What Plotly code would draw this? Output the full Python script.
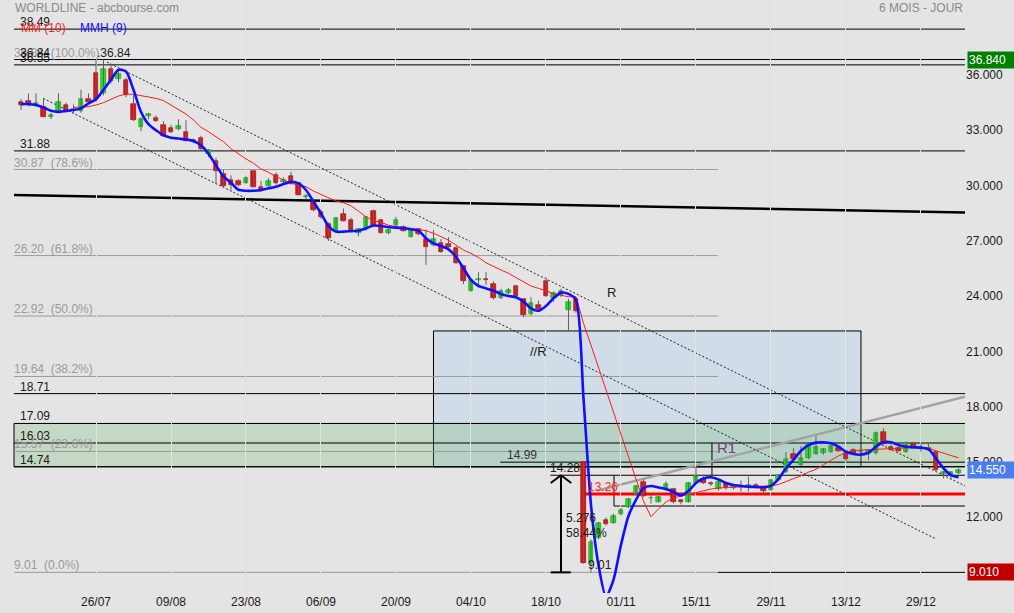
import plotly.graph_objects as go

# ---------------- data (trading-day index 0..125) ----------------
tick_idx = [10, 20, 30, 40, 50, 60, 70, 80, 90, 100, 110, 120]
tick_text = ["26/07", "09/08", "23/08", "06/09", "20/09", "04/10", "18/10",
             "01/11", "15/11", "29/11", "13/12", "29/12"]

opens = [34.56, 34.60, 34.45, 34.25, 33.72, 34.04, 34.37, 34.10, 34.03, 34.69,
         36.12, 35.00, 36.35, 35.76, 35.73, 34.43, 33.16, 33.75, 33.65, 33.30,
         33.10, 33.05, 32.93, 32.42, 32.56, 31.70, 31.33, 30.64, 30.30, 30.25,
         30.16, 30.77, 29.90, 30.00, 30.57, 30.20, 30.50, 30.12, 29.40, 29.13,
         28.58, 27.90, 27.50, 28.45, 28.13, 27.44, 27.62, 28.64, 28.13, 27.40,
         27.86, 27.77, 27.23, 27.62, 27.08, 26.77, 26.86, 26.82, 26.59, 25.63,
         24.30, 24.90, 24.95, 24.68, 23.92, 24.19, 24.55, 23.83, 23.01, 23.52,
         24.82, 23.88, 24.06, 23.25, 23.83, 14.99, 9.51, 10.86, 11.85, 11.71,
         12.16, 12.57, 13.25, 13.93, 13.02, 12.85, 13.53, 13.53, 12.94, 12.85,
         13.88, 14.06, 13.86, 13.52, 13.84, 13.57, 13.66, 13.70, 13.75, 13.63,
         13.48, 14.02, 14.47, 15.43, 14.84, 15.20, 15.43, 15.50, 15.56, 15.77,
         15.50, 15.65, 15.55, 15.50, 15.47, 16.65, 15.83, 15.74, 15.56, 16.00,
         15.74, 15.74, 15.56, 14.36, 14.23, 14.39]
highs = [34.70, 35.00, 35.00, 34.75, 33.95, 35.00, 34.50, 34.40, 35.20, 35.00,
         36.84, 36.84, 36.60, 36.20, 35.85, 34.90, 33.70, 33.95, 33.80, 33.50,
         33.30, 33.60, 33.55, 32.55, 32.70, 31.98, 31.50, 30.85, 30.55, 30.35,
         30.50, 30.80, 30.25, 30.40, 30.70, 30.45, 30.75, 30.20, 29.55, 29.20,
         28.70, 28.00, 28.30, 28.76, 28.25, 27.70, 28.35, 28.70, 28.20, 27.65,
         28.30, 27.85, 27.65, 27.70, 27.60, 27.60, 27.10, 27.20, 26.70, 25.70,
         24.95, 25.30, 25.30, 24.80, 24.40, 24.45, 24.60, 23.90, 23.95, 23.75,
         25.03, 24.25, 24.40, 23.85, 23.90, 14.99, 10.80, 11.75, 12.00, 12.20,
         12.50, 13.05, 13.75, 14.05, 13.25, 13.15, 13.95, 13.60, 13.00, 13.90,
         14.74, 14.30, 13.95, 14.05, 13.90, 13.80, 14.00, 14.20, 13.85, 13.70,
         14.05, 14.35, 15.55, 15.75, 15.85, 16.00, 16.40, 15.75, 15.95, 15.85,
         15.55, 15.75, 15.70, 15.70, 16.65, 16.83, 15.95, 15.85, 16.10, 16.10,
         16.00, 16.00, 15.60, 14.50, 14.50, 14.65]
lows = [34.10, 34.30, 34.30, 33.70, 33.62, 33.95, 33.95, 33.95, 33.95, 34.45,
        34.55, 34.90, 35.55, 35.60, 34.80, 33.50, 32.95, 33.60, 33.45, 32.65,
        32.85, 33.00, 32.40, 32.30, 31.90, 31.55, 30.12, 29.90, 29.75, 29.95,
        30.10, 29.90, 29.65, 29.95, 30.05, 30.10, 30.05, 29.45, 29.25, 28.60,
        28.20, 27.00, 27.45, 28.05, 27.55, 27.25, 27.55, 27.80, 27.40, 27.35,
        27.80, 27.50, 27.20, 27.30, 25.70, 26.70, 26.35, 26.55, 25.75, 24.65,
        24.25, 24.60, 24.60, 23.82, 23.85, 24.10, 23.95, 22.85, 22.95, 23.20,
        23.95, 23.70, 23.95, 22.11, 23.10, 9.48, 9.01, 10.80, 11.55, 11.65,
        12.10, 12.50, 13.20, 13.10, 12.75, 12.80, 13.45, 12.75, 12.70, 12.80,
        13.80, 13.80, 13.70, 13.45, 13.50, 13.50, 13.40, 13.40, 13.55, 13.20,
        13.45, 13.95, 14.40, 15.10, 14.80, 15.15, 15.40, 15.40, 15.50, 15.55,
        15.05, 15.40, 15.40, 15.10, 15.40, 15.95, 15.60, 15.55, 15.50, 15.70,
        15.55, 15.60, 14.50, 14.10, 14.05, 14.35]
closes = [34.38, 34.43, 34.47, 33.74, 33.85, 34.52, 34.00, 34.12, 34.68, 34.55,
          34.68, 36.35, 35.65, 36.08, 34.90, 33.56, 33.60, 33.90, 33.50, 32.70,
          32.90, 33.25, 32.44, 32.47, 31.98, 31.93, 30.80, 29.95, 30.03, 30.03,
          30.43, 29.93, 29.70, 30.25, 30.12, 30.30, 30.12, 29.50, 29.42, 28.67,
          28.27, 27.17, 28.22, 28.10, 27.59, 27.62, 28.27, 27.86, 27.44, 27.59,
          28.15, 27.55, 27.59, 27.35, 26.68, 27.08, 26.41, 26.68, 25.81, 24.83,
          24.90, 24.95, 24.90, 23.88, 24.30, 24.33, 24.00, 22.98, 23.61, 23.29,
          24.00, 24.19, 24.30, 23.70, 23.21, 9.51, 10.68, 11.67, 11.62, 12.07,
          12.39, 12.98, 13.70, 13.15, 13.05, 13.08, 13.80, 12.81, 12.81, 13.88,
          14.24, 13.86, 13.78, 13.93, 13.57, 13.72, 13.68, 13.72, 13.63, 13.44,
          14.02, 14.30, 15.15, 15.16, 15.20, 15.96, 15.83, 15.68, 15.87, 15.60,
          15.15, 15.47, 15.57, 15.65, 16.56, 15.98, 15.65, 15.60, 16.05, 15.74,
          15.76, 15.65, 14.57, 14.45, 14.45, 14.55]

# MMH (9) - blue
mmh9 = [34.42, 34.42, 34.37, 34.24, 34.06, 34.00, 34.06, 34.10, 34.19, 34.46,
        34.68, 35.20, 35.74, 36.28, 36.19, 35.20, 34.00, 33.33, 33.00, 32.73,
        32.60, 32.55, 32.50, 32.42, 32.19, 31.73, 31.10, 30.50, 30.15, 29.77,
        29.72, 29.72, 29.76, 29.85, 29.94, 30.08, 30.20, 30.12, 29.76, 29.13,
        28.49, 27.80, 27.50, 27.50, 27.53, 27.55, 27.68, 27.83, 27.81, 27.74,
        27.72, 27.68, 27.63, 27.55, 27.14, 26.86, 26.72, 26.54, 26.14, 25.51,
        24.88, 24.55, 24.42, 24.30, 24.12, 24.01, 23.94, 23.70, 23.34, 23.21,
        23.47, 23.88, 24.19, 24.12, 23.79, 18.47, 12.67, 9.41, 7.70, 8.60,
        10.50, 12.07, 12.94, 13.59, 13.70, 13.62, 13.53, 13.37, 13.18, 13.43,
        13.86, 14.10, 14.17, 14.05, 13.86, 13.75, 13.70, 13.66, 13.64, 13.63,
        13.70, 14.08, 14.66, 15.11, 15.61, 15.92, 16.05, 16.07, 16.01, 15.83,
        15.56, 15.43, 15.40, 15.50, 15.83, 16.07, 16.07, 15.92, 15.83, 15.80,
        15.78, 15.69, 15.20, 14.66, 14.29, 14.17]

# MM (10) - red (starts at index 7)
mm10 = [None] * 7 + [
    34.24, 34.24, 34.28,
    34.37, 34.50, 34.68, 34.86, 34.97, 34.95, 34.88, 34.82, 34.73, 34.61,
    34.37, 34.14, 33.88, 33.56, 33.16, 32.92, 32.65, 32.38, 32.00, 31.70,
    31.45, 31.21, 30.90, 30.72, 30.48, 30.30, 30.12, 30.03, 29.94, 29.70,
    29.52, 29.34, 29.16, 29.07, 28.90, 28.61, 28.30, 28.09, 28.00, 27.85,
    27.76, 27.71, 27.67, 27.63, 27.55, 27.41, 27.23, 27.04, 26.77, 26.50,
    26.32, 26.10, 25.81, 25.60, 25.42, 25.24, 25.00, 24.79, 24.55, 24.42,
    24.30, 24.12, 24.06, 23.97, 23.97, 22.53, 21.34, 20.15, 18.90, 17.71,
    16.52, 15.32, 14.08, 12.88, 12.03, 12.45, 12.83, 13.05, 13.15, 13.24,
    13.37, 13.45, 13.53, 13.59, 13.62, 13.64, 13.65, 13.66, 13.66, 13.67,
    13.70, 13.78, 13.93, 14.06, 14.25, 14.45, 14.60, 14.85, 15.11, 15.33,
    15.50, 15.61, 15.65, 15.67, 15.69, 15.72, 15.74, 15.77, 15.80, 15.80,
    15.80, 15.74, 15.60, 15.45, 15.35, 15.23]

# horizontal levels
black_levels = [38.49, 36.84, 36.55, 31.88, 18.71, 17.09, 16.03, 14.74]
fib_levels = [36.84, 30.87, 26.20, 22.92, 19.64, 15.57, 9.01]
fib_pcts = ["100.0%", "78.6%", "61.8%", "50.0%", "38.2%", "23.6%", "0.0%"]
zone_green = [14.74, 17.09]
zone_blue = [14.74, 22.11]
level_1499 = 14.99
level_1428 = 14.28
level_1326 = 13.26
level_1261 = 12.61
low_901 = 9.01
high_3684 = 36.84
last_close = 14.55
move_abs = "5.276"
move_pct = "58.44%"

# trend lines (index, value) end points
chan_upper = [(11.47, 36.70), (125.87, 13.70)]
chan_lower = [(2.97, 34.73), (121.87, 10.85)]
thick_line = [(-0.93, 29.49), (125.87, 28.54)]
grey_line = [(76.76, 13.44), (125.87, 18.54)]

# ---------------- figure ----------------
FONT = "Liberation Sans, Arial, sans-serif"
XMIN, XMAX = -2.8, 125.87
YMIN, YMAX = 7.89, 40.07
L0 = -0.93           # left start of drawn lines
FIB_END = 92.93
BG = "#e4e4e4"

n = len(closes)
idx = list(range(n))

fig = go.Figure()

# wicks
wx, wy = [], []
for i in idx:
    wx += [i, i, None]
    wy += [lows[i], highs[i], None]
fig.add_trace(go.Scatter(x=wx, y=wy, mode="lines",
                         line=dict(color="#606060", width=1), hoverinfo="skip"))

# bodies
base, height, fill, edge = [], [], [], []
for i in idx:
    o, c = opens[i], closes[i]
    base.append(min(o, c))
    height.append(max(abs(c - o), 0.05))
    up = c >= o
    fill.append("#1fe01f" if up else "#e81010")
    edge.append("#109a10" if up else "#a00000")
fig.add_trace(go.Bar(x=idx, y=height, base=base, width=0.6,
                     marker=dict(color=fill, line=dict(color=edge, width=0.6)),
                     hoverinfo="skip"))

# moving averages
fig.add_trace(go.Scatter(x=idx, y=mm10, mode="lines",
                         line=dict(color="#ff1a1a", width=1), hoverinfo="skip"))
fig.add_trace(go.Scatter(x=idx, y=mmh9, mode="lines",
                         line=dict(color="#1010ff", width=2.6, shape="spline",
                                   smoothing=0.7), hoverinfo="skip"))

shapes = []


def hline(y, x0, x1, color="black", width=1, dash=None, layer="below"):
    d = dict(type="line", xref="x", yref="y", x0=x0, x1=x1, y0=y, y1=y,
             line=dict(color=color, width=width), layer=layer)
    if dash:
        d["line"]["dash"] = dash
    shapes.append(d)


def seg(p0, p1, color="black", width=1, dash=None, layer="below"):
    d = dict(type="line", xref="x", yref="y", x0=p0[0], y0=p0[1],
             x1=p1[0], y1=p1[1], line=dict(color=color, width=width), layer=layer)
    if dash:
        d["line"]["dash"] = dash
    shapes.append(d)


# zones
shapes.append(dict(type="rect", xref="x", yref="y", x0=55, x1=112,
                   y0=zone_blue[0], y1=zone_blue[1], fillcolor="#d0dce8",
                   line=dict(color="black", width=1), layer="below"))
shapes.append(dict(type="rect", xref="x", yref="y", x0=L0, x1=XMAX + 0.2,
                   y0=zone_green[0], y1=zone_green[1],
                   fillcolor="rgba(104,180,96,0.25)",
                   line=dict(color="black", width=1), layer="below"))

# fibonacci lines
for lv in fib_levels:
    hline(lv, L0, FIB_END, color="#9a9a9a", width=1)

# black levels
for lv in black_levels:
    hline(lv, L0, XMAX + 1, color="black", width=1)
hline(low_901, FIB_END, XMAX + 1)
hline(level_1499, 63.9, XMAX + 1)
hline(level_1428, 70.6, XMAX + 1)
hline(level_1261, 79.07, XMAX + 1)
seg((79.07, level_1261), (79.07, level_1428))
seg((92.13, level_1428), (92.13, zone_green[0] + 1.29))
hline(level_1326, 75, XMAX + 1, color="#ff0000", width=3)

# trend lines
seg(*thick_line, color="black", width=2.5)
seg(*grey_line, color="#a3a3a3", width=2.5)
seg(*chan_upper, color="#222222", width=1, dash="2px,2px")
seg(*chan_lower, color="#222222", width=1, dash="2px,2px")

# measuring arrow
seg((72, low_901), (72, level_1428), width=2, layer="above")
seg((70.63, level_1428 - 0.42), (72, level_1428), width=2, layer="above")
seg((73.37, level_1428 - 0.42), (72, level_1428), width=2, layer="above")
seg((70.63, low_901), (73.3, low_901), width=2, layer="above")

fig.update_layout(shapes=shapes)

ann = []


def text(x, y, s, color="#1a1a1a", size=12, yshift=0, xanchor="left",
         xref="x", yref="y"):
    ann.append(dict(x=x, y=y, xref=xref, yref=yref, text=s, showarrow=False,
                    xanchor=xanchor, yanchor="middle", yshift=yshift,
                    font=dict(family=FONT, size=size, color=color)))


NB = "\u00a0"
# fib labels
for lv, p in zip(fib_levels, fib_pcts):
    text(-1.2, lv, f"{lv:.2f}{NB}{NB}({p})", color="#9a9a9a", yshift=7)
# black level labels
for lv in black_levels:
    text(-0.45, lv, f"{lv:.2f}", yshift=7)
text(9.9, high_3684, "." + f"{high_3684:.2f}", yshift=7)
text(64.5, level_1499, f"{level_1499:.2f}", color="#333333", yshift=7)
text(70.3, level_1428, f"{level_1428:.2f}", yshift=7)
text(75.4, level_1326, f"{level_1326:.2f}", color="#ff2a2a", yshift=7)
text(72.45, 11.96, move_abs)
text(72.45, 11.15, move_pct)
text(75.3, 9.41, f"{low_901:.2f}")
text(92.6, 15.76, "R1", color="#7a3a8a", size=15)
text(77.85, 24.22, "R", size=13)
text(67.6, 20.97, "//R", size=13)

# header and legend (paper coords)
text(13 / 965, 1 - 8 / 593, "WORLDLINE - abcbourse.com", color="#8a8a8a",
     xref="paper", yref="paper")
text(1.0, 1 - 8 / 593, "6 MOIS - JOUR", color="#8a8a8a", xanchor="right",
     xref="paper", yref="paper")
text(19 / 965, 1 - 28 / 593, "MM (10)", color="#ff2020", xref="paper",
     yref="paper")
text(78 / 965, 1 - 28 / 593, "MMH (9)", color="#1010ff", xref="paper",
     yref="paper")

# right value boxes
for val, bg in [(high_3684, "#008000"), (last_close, "#4a7ef0"),
                (low_901, "#c00000")]:
    ann.append(dict(x=1.0, y=val, xref="paper", yref="y", xanchor="left",
                    yanchor="middle", xshift=2, text=f"{val:.3f}",
                    showarrow=False, bgcolor=bg, borderpad=1, width=45,
                    align="left",
                    font=dict(family=FONT, size=12, color="white")))

fig.update_layout(annotations=ann)

ytick = [12, 15, 18, 21, 24, 27, 30, 33, 36]
fig.update_layout(
    width=1014, height=613, autosize=False,
    margin=dict(l=0, r=49, t=0, b=20, pad=0),
    paper_bgcolor=BG, plot_bgcolor=BG, showlegend=False,
    font=dict(family=FONT, size=12, color="#1a1a1a"),
    bargap=0,
    xaxis=dict(range=[XMIN, XMAX], tickvals=tick_idx, ticktext=tick_text,
               showgrid=True, gridcolor="#e1e1e1", zeroline=False,
               showline=False, ticks="", fixedrange=True,
               tickfont=dict(family=FONT, size=12, color="#1a1a1a")),
    yaxis=dict(range=[YMIN, YMAX], side="right", tickvals=ytick,
               ticktext=[f"{v:.3f}" for v in ytick], showgrid=False,
               zeroline=False, showline=False, ticks="", fixedrange=True,
               tickfont=dict(family=FONT, size=12, color="#1a1a1a")),
)

fig.write_html(
    "out.html",
    config={"displayModeBar": False},
    post_script="document.body.style.margin='0';"
                "document.body.style.background='" + BG + "';",
)
